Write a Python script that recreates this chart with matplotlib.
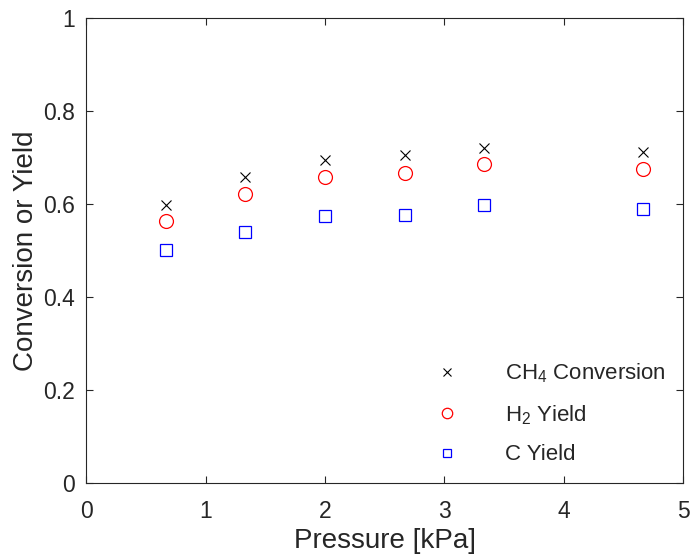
import matplotlib.pyplot as plt
import numpy as np

plt.rcParams['font.family'] = ['Liberation Sans', 'DejaVu Sans']
plt.rcParams['mathtext.fontset'] = 'custom'
plt.rcParams['mathtext.rm'] = 'Liberation Sans'

pressure = [0.667, 1.333, 2.0, 2.667, 3.333, 4.667]
ch4_conv = [0.598, 0.658, 0.695, 0.705, 0.720, 0.712]
h2_yield = [0.563, 0.621, 0.658, 0.667, 0.686, 0.675]
c_yield = [0.501, 0.540, 0.574, 0.576, 0.598, 0.589]

axcol = '#262626'

fig = plt.figure(figsize=(6.95, 5.54), dpi=100)
ax = fig.add_axes([0.124, 0.128, 0.859, 0.840])

ax.plot(pressure, ch4_conv, 'x', color='black', ms=7, mew=0.8, ls='none', label=r'CH$_4$ Conversion')
ax.plot(pressure, h2_yield, 'o', color='red', mfc='none', ms=10, mew=0.9, ls='none', label=r'H$_2$ Yield')
ax.plot(pressure, c_yield, 's', color='blue', mfc='none', ms=8, mew=0.9, ls='none', label='C Yield')

ax.set_xlim(0, 5)
ax.set_ylim(0, 1)
ax.set_xticks(np.arange(0, 6, 1))
ax.set_yticks([0, 0.2, 0.4, 0.6, 0.8, 1])
ax.set_yticklabels(['0', '0.2', '0.4', '0.6', '0.8', '1'])
ax.tick_params(direction='in', top=True, right=True, labelsize=16.5, colors=axcol, length=5, width=0.8)
ax.tick_params(axis='x', pad=12)
ax.tick_params(axis='y', pad=8)
for s in ax.spines.values():
    s.set_color(axcol)
    s.set_linewidth(0.8)

ax.set_xlabel('Pressure [kPa]', fontsize=20, color=axcol, labelpad=4)
ax.set_ylabel('Conversion or Yield', fontsize=20, color=axcol, labelpad=3)

leg = ax.legend(loc='lower right', frameon=False, fontsize=16, handlelength=2.0,
                handletextpad=1.6, borderaxespad=0.4, borderpad=0.4, labelspacing=0.8,
                markerscale=0.75)
for t in leg.get_texts():
    t.set_color(axcol)

plt.savefig('out.png', dpi=100)
